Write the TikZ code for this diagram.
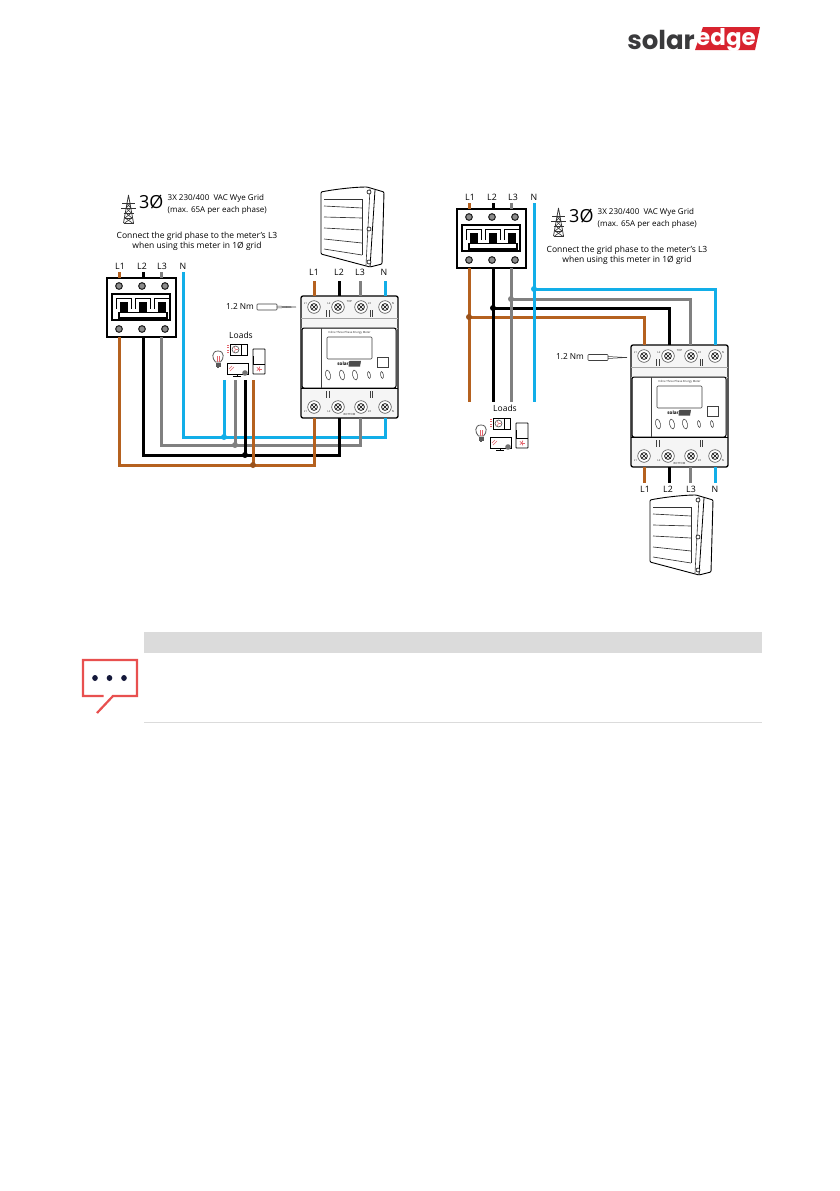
\documentclass[tikz,border=0pt]{standalone}
\usepackage{fontspec}
\setmainfont{Open Sans}
\newfontfamily\logofont{Poppins}
\definecolor{wirebrown}{HTML}{B5611F}
\definecolor{wireblue}{HTML}{12AEE8}
\definecolor{wiregray}{HTML}{808080}
\definecolor{sered}{HTML}{D8232F}
\definecolor{notered}{HTML}{E8504F}
\definecolor{notedot}{HTML}{14183A}
\definecolor{logogray}{HTML}{3A3A3C}
\definecolor{bandgray}{HTML}{DBDBDB}
\tikzset{
  wire/.style={line width=3pt,line join=miter},
  wl1/.style={wire,draw=wirebrown},
  wl2/.style={wire,draw=black},
  wl3/.style={wire,draw=wiregray},
  wn/.style={wire,draw=wireblue},
  jdot/.style={circle,inner sep=0pt,minimum size=6pt},
  lab/.style={font=\fontsize{8.8}{10}\selectfont,text=black,inner sep=0pt},
  small/.style={font=\fontsize{8}{11.6}\selectfont,text=black,inner sep=0pt,anchor=west,align=left},
  note/.style={font=\fontsize{8.5}{10.2}\selectfont,text=black,inner sep=0pt,align=center},
  three/.style={font=\fontsize{18}{20}\selectfont,text=black,inner sep=0pt,anchor=west},
  tiny/.style={font=\fontsize{2.8}{3}\selectfont,text=black!85,inner sep=0pt},
  fine/.style={line width=0.55pt,draw=black!75},
  pics/breaker/.style={code={
    \draw[black,line width=1.2pt,fill=white] (0,0) rectangle (69,59);
    \draw[black,line width=1.1pt] (5,16) rectangle (63,42);
    \foreach \x/\n/\w in {12/1/12,35/2/36,58/3/54}{
      \draw[fill=black!45,draw=black!85,line width=1.1pt] (\x,8) circle (3.3);
      \draw[fill=black!45,draw=black!85,line width=1.1pt] (\x,51) circle (3.3);
      \coordinate (-t\n) at (\w,0);
      \coordinate (-b\n) at (\w,59);
    }
    \foreach \x in {9,28,47}{
      \draw[black,line width=0.9pt] (\x,31)--(\x,20)--(\x+15,20)--(\x+15,31);
      \fill[black] (\x+4,24) rectangle (\x+11.5,34);
    }
    \draw[black,line width=1.1pt,fill=white] (12,34.5) rectangle (60,40);
  }},
  pics/meter/.style={code={
    \fill[black!4] (0,0) rectangle (97,122);
    \draw[black,line width=1.3pt,rounded corners=2pt] (0,0) rectangle (97,122);
    \draw[black!35,line width=0.5pt] (0,22)--(97,22) (0,32)--(97,32);
    \draw[black!35,line width=0.5pt] (0,92)--(97,92);
    \draw[black,line width=1pt,fill=white,rounded corners=2pt] (1,32) rectangle (95,92);
    \draw[black,line width=1.1pt] (0,92.5)--(97,92.5);
    \draw[fine] (20,32)--(20,92);
    \draw[fine,fill=white,rounded corners=1pt] (26,41) rectangle (71,63);
    \draw[fine,fill=white] (76,61) rectangle (87,71);
    \node[tiny] (-title) at (48.5,37) {Inline Three Phase Energy Meter};
    \node[font=\fontsize{4.6}{5}\selectfont\bfseries,inner sep=0pt,anchor=east] (-lg) at (48,68) {solar};
    \fill[black!70] (48,65.4)--(49,64.9)--(60,64.9)--(59,70.6)--(47.5,70.6)--cycle;
    \foreach \x in {27,41,54}{\draw[fine,rotate around={12:(\x,79)}] (\x,79) ellipse (2.4 and 5);}
    \foreach \x in {68,81}{\draw[fine,rotate around={10:(\x,79)}] (\x,79) ellipse (1.4 and 3.5);}
    \draw[fine] (25.5,14)--(25.5,21) (28,14)--(28,21) (69,14)--(69,21) (71.5,14)--(71.5,21);
    \draw[fine] (25.5,95)--(25.5,102) (28,95)--(28,102) (69,95)--(69,102) (71.5,95)--(71.5,102);
    \foreach \x/\n/\w in {13/1/13,37/2/38,60/3/59,84/4/84}{
      \foreach \y/\k in {11/a,111/c}{
        \draw[line width=0.5pt,draw=black!80,fill=white] (\x,\y) circle (6.3);
        \draw[line width=0.7pt,draw=black] (\x,\y) circle (3.4);
        \draw[line width=0.5pt,draw=black] (\x-2.2,\y-2.2)--(\x+2.2,\y+2.2) (\x-2.2,\y+2.2)--(\x+2.2,\y-2.2);
      }
      \coordinate (-t\n) at (\w,0);
      \coordinate (-b\n) at (\w,122);
    }
    \node[tiny] (-l1) at (4.5,7) {L1};
    \node[tiny] (-l2) at (28,7) {L2};
    \node[tiny] (-l3) at (68.5,7) {L3};
    \node[tiny] (-l4) at (92,7) {N};
    \node[tiny] (-l5) at (4.5,115) {L1};
    \node[tiny] (-l6) at (28,115) {L2};
    \node[tiny] (-l7) at (68.5,115) {L3};
    \node[tiny] (-l8) at (92,115) {N};
    \node[tiny] (-top) at (48.5,5) {TOP};
    \node[tiny] (-bot) at (48.5,118) {BOTTOM};
  }},
  pics/inverter/.style={code={
    \draw[black,line width=0.9pt,fill=white,rounded corners=1pt] (0,5)..controls (15,2) and (35,0)..(46,0)--(63,5)--(61,77)--(49,80)--(0,67)--cycle;
    \draw[black,line width=0.8pt] (54,3)--(49,80);
    \draw[black!80,line width=0.6pt] (49,2)--(45,78);
    \foreach \a/\b in {12/12,19/21,30/31,41/43,52/56,62/68}{\draw[black!80,line width=0.65pt] (3,\a)--(41,\b);}
    \draw[black!80,line width=0.65pt] (41,12)--(41,68);
    \foreach \y in {5,42,75}{\draw[black,line width=0.6pt,fill=white] (48,\y) circle (2);}
  }},
  pics/loads/.style={code={
    % bulb
    \draw[black!65,line width=0.8pt] (0,-7) .. controls (-7,-7) and (-6,1) .. (-2.5,4)--(2.5,4) .. controls (6,1) and (7,-7) .. (0,-7);
    \fill[black!65] (-2.5,4.5) rectangle (2.5,8.5);
    \fill[black!65] (-1.3,8.5) rectangle (1.3,10);
    \draw[sered!70,line width=0.5pt] (-1,3.5)--(-1,-2) (1,3.5)--(1,-2);
    % fan box
    \draw[black,line width=0.9pt] (12,-14) rectangle (29,-3);
    \draw[black,line width=0.7pt] (23,-14)--(23,-3);
    \draw[black!70,line width=0.6pt] (17.5,-8.5) circle (3.5);
    \foreach \a in {0,120,240}{\draw[sered!60,line width=0.6pt] (17.5,-8.5)--++(\a:2.5);}
    \foreach \y in {-13,-10.5,-8,-5.5}{\draw[sered!70,line width=0.7pt] (9,\y)--(11,\y);}
    % tv
    \draw[black,line width=0.9pt] (9,5) rectangle (30,16);
    \draw[sered!70,line width=0.5pt] (11,11)--(14,8) (12,13)--(16,9);
    \draw[black,line width=0.7pt] (19,16)--(19,18) (15,18)--(23,18);
    \fill[black!55] (27,15) circle (2.8);
    % fridge
    \draw[black,line width=0.9pt,rounded corners=0.6pt] (35,-9) rectangle (47,16);
    \draw[black,line width=0.7pt] (35,6)--(47,6) (35,6)--(35,-2);
    \foreach \a in {0,72,144,216,288}{\draw[sered!70,line width=0.7pt] (41,11)--++(\a:2.6);}
  }},
  pics/tower/.style={code={
    \draw[black!80,line width=0.75pt] (7.5,0)--(2.5,28) (7.5,0)--(12.5,28);
    \draw[black!80,line width=0.75pt] (1,8)--(14,8) (0,13)--(15,13) (2.5,18)--(12.5,18);
    \draw[black!80,line width=0.65pt] (5.5,8)--(9.8,13)--(4.7,18)--(11,23)--(3.5,28);
    \draw[black!80,line width=0.65pt] (9.5,8)--(5.2,13)--(10.3,18)--(4,23)--(11.5,28);
    \draw[black!80,line width=0.75pt] (4,23)--(11,23) (2.5,28)--(12.5,28);
  }},
  pics/driver/.style={code={
    \draw[black!75,line width=0.6pt,rounded corners=0.7pt] (0,-3) rectangle (20,3);
    \draw[black!75,line width=0.5pt] (20,-1)--(39,0) (20,1)--(39,0);
  }},
}
\begin{document}
\begin{tikzpicture}[x=1pt,y=-1pt]
\useasboundingbox (0,0) rectangle (839,1191);
\fill[white] (0,0) rectangle (839,1191);

% logo
\node[font=\logofont\fontsize{26}{28}\selectfont\bfseries,text=logogray,inner sep=0pt,anchor=base east] (logosolar) at (695,49) {solar};
\fill[sered] (703,27)--(760,27)--(755,50)--(695,50)--cycle;
\node[font=\logofont\fontsize{23}{26}\selectfont\bfseries,text=white,inner sep=0pt,anchor=base] (logoedge) at (726,45.5) {edge};

% ---------- LEFT DIAGRAM ----------
\pic (lt) at (121,195) {tower};
\node[three] (l3p) at (139,202) {3Ø};
\node[small] (la1) at (167.5,204.5) {3X 230/400 \ VAC Wye Grid\\(max. 65A per each phase)};
\node[note] (lc1) at (197,241) {Connect the grid phase to the meter's L3\\when using this meter in 1Ø grid};
\pic (linv) at (321,187) {inverter};
\node[lab] (lL1) at (120,266) {L1};
\node[lab] (lL2) at (142,266) {L2};
\node[lab] (lL3) at (162,266) {L3};
\node[lab] (lN) at (183,266) {N};
\node[lab] (lmL1) at (314,272) {L1};
\node[lab] (lmL2) at (339,272) {L2};
\node[lab] (lmL3) at (360,272) {L3};
\node[lab] (lmN) at (384,272) {N};
\node[lab,font=\fontsize{8.3}{10}\selectfont] (lnm) at (240,307) {1.2 Nm};
\pic (ldrv) at (257,307) {driver};
\node[lab,font=\fontsize{8.5}{10}\selectfont] (lloads) at (241,335) {Loads};
\pic (lic) at (218,358) {loads};

\coordinate (lft1) at (119,272); \coordinate (lft2) at (143,272); \coordinate (lft3) at (161,272); \coordinate (lftn) at (183,272);
\coordinate (lmt1) at (314,281); \coordinate (lmt2) at (339,281); \coordinate (lmt3) at (360,281); \coordinate (lmt4) at (385,281);
\coordinate (lln) at (224,380); \coordinate (ll3) at (235,380); \coordinate (ll2) at (245,380); \coordinate (ll1) at (253,380);
\coordinate (ljn) at (224,437); \coordinate (lj3) at (235,445); \coordinate (lj2) at (245,455); \coordinate (lj1) at (253,465);

\pic (lb) at (107,278) {breaker};
\pic (lm) at (301,296) {meter};

\draw[wl1] (lft1)--(lb-t1); \draw[wl2] (lft2)--(lb-t2); \draw[wl3] (lft3)--(lb-t3);
\draw[wl1] (lmt1)--(lm-t1); \draw[wl2] (lmt2)--(lm-t2); \draw[wl3] (lmt3)--(lm-t3); \draw[wn] (lmt4)--(lm-t4);

\draw[wn] (lftn)|-(ljn)-|(lm-b4);
\draw[wn] (lln)--(ljn);
\draw[wl3] (lb-b3)|-(lj3)-|(lm-b3);
\draw[wl3] (ll3)--(lj3);
\draw[wl2] (lb-b2)|-(lj2)-|(lm-b2);
\draw[wl2] (ll2)--(lj2);
\draw[wl1] (lb-b1)|-(lj1)-|(lm-b1);
\draw[wl1] (ll1)--(lj1);
\node[jdot,fill=wireblue] (ljnd) at (ljn) {};
\node[jdot,fill=wiregray] (lj3d) at (lj3) {};
\node[jdot,fill=black] (lj2d) at (lj2) {};
\node[jdot,fill=wirebrown!85!black] (lj1d) at (lj1) {};

% ---------- RIGHT DIAGRAM ----------
\pic (rt) at (551,208) {tower};
\node[three] (r3p) at (569,216) {3Ø};
\node[small] (ra1) at (597.5,218.5) {3X 230/400 \ VAC Wye Grid\\(max. 65A per each phase)};
\node[note] (rc1) at (627,255) {Connect the grid phase to the meter's L3\\when using this meter in 1Ø grid};
\node[lab] (rL1) at (470,197) {L1};
\node[lab] (rL2) at (492,197) {L2};
\node[lab] (rL3) at (513,197) {L3};
\node[lab] (rN) at (534,197) {N};
\node[lab,font=\fontsize{8.3}{10}\selectfont] (rnm) at (570,357) {1.2 Nm};
\pic (rdrv) at (588,357.5) {driver};
\node[lab,font=\fontsize{8.5}{10}\selectfont] (rloads) at (505,408) {Loads};
\pic (ric) at (481,432) {loads};
\node[lab] (rmL1) at (645,489) {L1};
\node[lab] (rmL2) at (668,489) {L2};
\node[lab] (rmL3) at (691,489) {L3};
\node[lab] (rmN) at (715,489) {N};
\pic (rinv) at (650,495) {inverter};

\coordinate (rft1) at (469,203); \coordinate (rft2) at (493,203); \coordinate (rft3) at (511,203); \coordinate (rftn) at (534,203);
\coordinate (rl1) at (469,402); \coordinate (rl2) at (493,402); \coordinate (rl3) at (511,402); \coordinate (rln) at (534,402);
\coordinate (rj1) at (469,317); \coordinate (rj2) at (493,308); \coordinate (rj3) at (511,299); \coordinate (rjn) at (534,289);
\coordinate (rmb1) at (644,483); \coordinate (rmb2) at (669,483); \coordinate (rmb3) at (690,483); \coordinate (rmb4) at (715,483);

\pic (rb) at (457,209) {breaker};
\pic (rm) at (631,345) {meter};

\draw[wl1] (rft1)--(rb-t1); \draw[wl2] (rft2)--(rb-t2); \draw[wl3] (rft3)--(rb-t3);
\draw[wl1] (rb-b1)--(rl1);
\draw[wl1] (rj1)-|(rm-t1);
\draw[wl2] (rb-b2)--(rl2);
\draw[wl2] (rj2)-|(rm-t2);
\draw[wl3] (rb-b3)--(rl3);
\draw[wl3] (rj3)-|(rm-t3);
\draw[wn] (rftn)--(rln);
\draw[wn] (rjn)-|(rm-t4);
\draw[wl1] (rm-b1)--(rmb1); \draw[wl2] (rm-b2)--(rmb2); \draw[wl3] (rm-b3)--(rmb3); \draw[wn] (rm-b4)--(rmb4);
\node[jdot,fill=wirebrown!85!black] (rj1d) at (rj1) {};
\node[jdot,fill=black] (rj2d) at (rj2) {};
\node[jdot,fill=wiregray] (rj3d) at (rj3) {};
\node[jdot,fill=wireblue] (rjnd) at (rjn) {};

% ---------- NOTE BAND ----------
\fill[bandgray] (144,632) rectangle (762,653);
\draw[bandgray,line width=1pt] (144,722.5)--(762,722.5);
\draw[notered,line width=2.2pt] (103.5,696)--(83,696)--(83,660)--(137,660)--(137,696)--(113,696)--(97,713);
\foreach \x in {95,109.5,124}{\fill[notedot] (\x,678) ellipse (2.8 and 3);}
\end{tikzpicture}
\end{document}
